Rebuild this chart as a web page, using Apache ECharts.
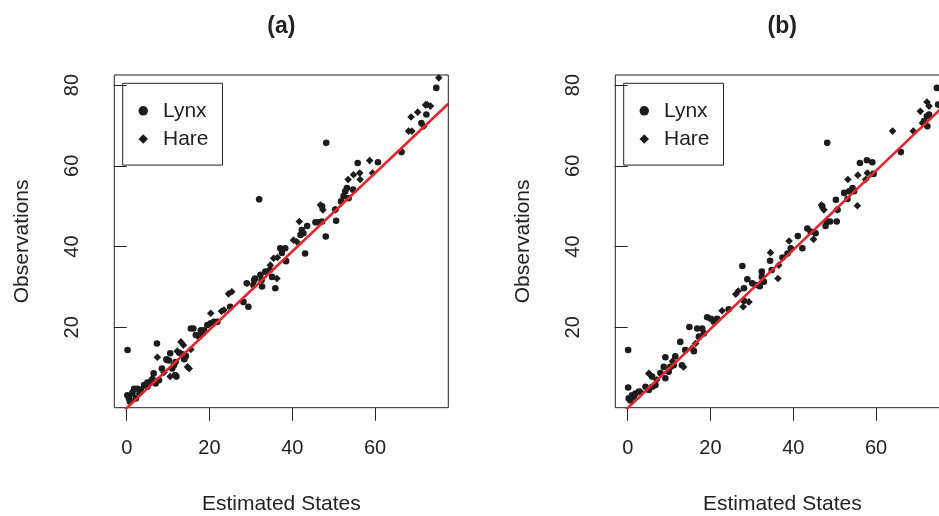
<!DOCTYPE html>
<html>
<head>
<meta charset="utf-8">
<script src="https://cdn.jsdelivr.net/npm/echarts@6/dist/echarts.min.js"></script>
<style>
html,body{margin:0;padding:0;background:#fff;overflow:hidden;}
#chart{width:939px;height:516px;}
</style>
</head>
<body>
<div id="chart"></div>
<script>
// ---- data ----
const panelTitles = ['(a)', '(b)'];
const xTicks = [0, 20, 40, 60];
const yTicks = [20, 40, 60, 80];
const xName = 'Estimated States';
const yName = 'Observations';
const legendNames = ['Lynx', 'Hare'];

// Panel (a): [estimated state, observation]
const lynxA = [
  [0.2,14.4],[7.3,16.0],[9.6,12.1],[8.5,9.8],[5.0,6.3],[12.0,7.8],[12.7,13.7],[11.0,9.8],[11.4,10.6],[11.8,11.4],
  [10.2,11.8],[13.5,13.3],[14.3,12.9],[13.9,12.1],[16.7,18.1],[15.5,19.7],[16.1,19.7],[17.9,19.3],[17.5,17.7],[18.3,18.5],
  [18.7,19.3],[19.5,20.6],[20.3,21.0],[21.1,21.4],[21.9,21.4],[25.0,25.1],[28.2,26.3],[29.4,25.1],[29.0,30.9],[30.6,30.5],
  [31.0,32.1],[32.3,33.0],[32.6,31.7],[33.5,33.8],[34.6,34.2],[35.1,32.5],[35.9,29.7],[30.8,31.7],[32.7,30.1],[32.0,51.7],
  [37.1,39.6],[38.3,39.6],[37.5,38.4],[38.5,36.4],[43.1,38.3],[42.3,44.1],[42.7,43.3],[42.0,42.9],[43.6,45.1],[45.6,46.0],
  [46.4,46.0],[47.2,46.2],[48.1,42.5],[50.6,46.4],[50.4,49.2],[47.2,50.0],[51.8,51.2],[52.4,52.5],[53.6,52.0],[52.8,53.7],
  [53.2,54.5],[54.7,54.1],[48.2,65.7],[55.8,60.7],[60.7,60.9],[66.4,63.4],[71.2,70.6],[72.4,72.7],[74.8,79.3],
  [0.55,2.4],[1.36,3.6],[2.6,4.8],[3.4,4.6],[1.8,4.8],[0.15,3.2],[0.8,1.6],[2.2,2.4],[4.2,5.7],[5.8,6.5],
  [7.0,6.1],[7.8,6.9],[5.0,5.3],[6.5,8.6],[9.7,11.9],[10.5,13.6],[11.7,8.2]
];
const hareA = [
  [7.4,12.6],[10.5,7.8],[13.1,16.4],[13.7,15.6],[15.1,9.8],[14.7,10.2],[12.2,14.1],[15.5,14.5],[20.3,23.5],[23.5,24.3],
  [22.9,24.0],[24.6,28.3],[25.4,28.8],[36.3,32.1],[35.5,37.1],[36.4,37.3],[34.7,35.4],[40.3,41.6],[41.1,41.2],[41.7,46.2],
  [46.8,50.3],[47.4,49.1],[50.4,49.1],[53.5,56.6],[54.8,57.8],[56.3,58.2],[56.4,56.6],[59.4,58.2],[58.7,61.3],[68.1,68.6],
  [68.9,68.6],[71.8,69.8],[68.7,72.1],[70.3,73.3],[72.6,75.2],[73.4,74.8],[72.2,75.1],[75.4,81.8],[77.8,77.6],[1.5,4.2],
  [3.0,3.6],[6.2,7.4],[9.0,8.8]
];
// Panel (b)
const lynxB = [
  [0.1,14.4],[0.1,5.1],[0.25,2.4],[1.05,3.2],[1.86,3.6],[0.65,1.9],[2.7,4.1],[1.46,2.8],[4.3,5.3],[5.1,4.5],
  [5.9,5.3],[6.7,5.7],[5.9,7.8],[7.9,8.7],[8.7,10.2],[9.1,12.6],[10.3,10.2],[9.1,7.4],[9.9,9.0],[11.1,10.6],
  [11.5,12.8],[13.1,10.6],[12.7,16.4],[13.9,14.4],[16.0,14.1],[14.9,20.1],[16.8,19.7],[18.0,19.7],[18.4,18.5],[17.2,17.7],
  [19.2,22.5],[20.1,22.1],[20.8,21.4],[21.6,22.1],[24.4,24.5],[28.1,26.6],[28.1,29.7],[27.7,35.2],[28.9,31.9],[30.1,30.9],
  [30.9,30.5],[31.9,30.2],[32.4,33.8],[32.4,32.5],[32.9,31.3],[34.4,36.5],[34.8,34.2],[37.4,37.3],[38.6,38.3],[39.4,39.6],
  [42.2,39.6],[41.1,42.6],[43.4,44.5],[44.2,43.7],[45.4,43.3],[47.8,45.1],[48.1,46.2],[48.9,46.2],[50.5,46.2],[50.7,49.1],
  [47.0,50.0],[50.3,51.6],[52.3,53.3],[53.1,51.8],[53.5,53.7],[54.3,54.5],[54.7,53.7],[48.2,65.7],[56.1,60.7],[57.8,61.4],
  [59.1,60.9],[59.4,58.0],[66.0,63.4],[71.6,71.1],[72.3,72.3],[72.8,72.7],[72.4,69.8],[74.7,79.3],[75.0,75.2]
];
const hareB = [
  [5.1,8.6],[5.5,8.2],[13.5,10.2],[15.5,14.8],[16.4,16.0],[22.8,24.1],[26.1,28.2],[26.7,29.0],[27.9,25.1],[29.3,26.3],
  [34.5,38.5],[36.5,35.4],[36.3,32.1],[39.0,41.4],[44.9,41.8],[46.8,50.3],[47.4,49.1],[50.6,49.1],[55.5,50.1],[53.2,56.6],
  [57.5,56.6],[55.6,57.7],[57.9,58.2],[64.0,68.6],[69.0,68.6],[71.2,70.6],[70.7,73.5],[72.3,75.8],[72.8,74.8],[75.2,75.1],
  [3.2,4.0],[7.0,7.0],[10.8,11.6]
];
// fitted lines: [intercept, slope]
const fitA = [0.0, 0.97];
const fitB = [0.0, 0.98];

// ---- layout / style ----
const FONT = '"Liberation Sans", Arial, Helvetica, sans-serif';
const INK = '#222222';
const PT = '#1c1c1c';
const RED = '#e3262b';
const xRange = [-3.0, 77.7];
const yRange = [0.1, 82.5];
const grids = [
  {left: 114.3, top: 75, width: 334, height: 332.7},
  {left: 615.3, top: 75, width: 334, height: 332.7}
];

function fitLine(f){
  return [[xRange[0], f[0] + f[1]*xRange[0]], [xRange[1], f[0] + f[1]*xRange[1]]];
}

const chart = echarts.init(document.getElementById('chart'), null, {renderer: 'canvas'});

const xAxes = [], yAxes = [], legends = [], series = [], graphics = [];
const panels = [[lynxA, hareA, fitA], [lynxB, hareB, fitB]];
panels.forEach((p, i) => {
  xAxes.push({
    gridIndex: i, type: 'value', min: xRange[0], max: xRange[1],
    axisLine: {show: false}, splitLine: {show: false},
    axisTick: {show: true, customValues: xTicks, length: 13, lineStyle: {color: INK, width: 1}},
    axisLabel: {customValues: xTicks, fontSize: 20, color: INK, fontFamily: FONT, margin: 31},
    name: xName, nameLocation: 'middle', nameGap: 86,
    nameTextStyle: {fontSize: 21, color: INK, fontFamily: FONT}
  });
  yAxes.push({
    gridIndex: i, type: 'value', min: yRange[0], max: yRange[1],
    axisLine: {show: false}, splitLine: {show: false},
    axisTick: {show: true, customValues: yTicks, length: 13, lineStyle: {color: INK, width: 1}},
    axisLabel: {customValues: yTicks, fontSize: 20, color: INK, fontFamily: FONT, margin: 32, rotate: 90},
    name: yName, nameLocation: 'middle', nameGap: 82, nameRotate: 90,
    nameTextStyle: {fontSize: 21, color: INK, fontFamily: FONT}
  });
  legends.push({
    data: [{name: legendNames[0], icon: 'circle'}, {name: legendNames[1], icon: 'diamond'}],
    orient: 'vertical', left: grids[i].left + 8.4, top: 83.3,
    itemWidth: 9.5, itemHeight: 9.5, itemGap: 7.3,
    padding: [17, 14, 15.5, 15.8],
    borderColor: INK, borderWidth: 1, selectedMode: false,
    textStyle: {fontSize: 21, color: INK, fontFamily: FONT, lineHeight: 20, padding: [0, 0, 0, 10]}
  });
  series.push({
    name: legendNames[0], type: 'scatter', xAxisIndex: i, yAxisIndex: i,
    symbol: 'circle', symbolSize: 6.6, itemStyle: {color: PT, opacity: 1},
    data: p[0], z: 2, silent: true
  });
  series.push({
    name: legendNames[1], type: 'scatter', xAxisIndex: i, yAxisIndex: i,
    symbol: 'diamond', symbolSize: 7.6, itemStyle: {color: PT, opacity: 1},
    data: p[1], z: 2, silent: true
  });
  series.push({
    name: 'fit' + i, type: 'line', xAxisIndex: i, yAxisIndex: i,
    showSymbol: false, symbol: 'none', clip: true, silent: true,
    lineStyle: {color: RED, width: 2.6}, data: fitLine(p[2]), z: 5
  });
  graphics.push({
    type: 'text', x: grids[i].left + 167, y: 27,
    style: {text: panelTitles[i], font: 'bold 23px ' + FONT, fill: INK,
            textAlign: 'center', textVerticalAlign: 'middle'}
  });
});

chart.setOption({
  animation: false,
  backgroundColor: '#ffffff',
  grid: grids.map(g => Object.assign({show: true, borderColor: INK, borderWidth: 1,
    backgroundColor: 'transparent', containLabel: false, outerBoundsMode: 'none'}, g)),
  xAxis: xAxes,
  yAxis: yAxes,
  legend: legends,
  series: series,
  graphic: graphics
});
</script>
</body>
</html>
